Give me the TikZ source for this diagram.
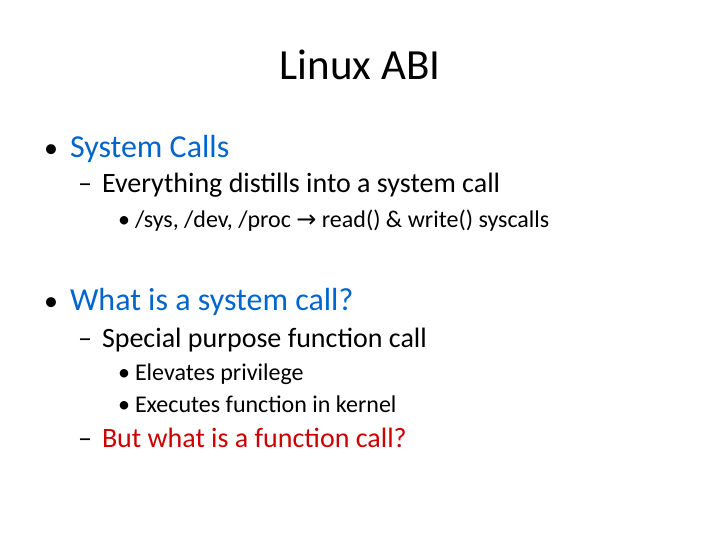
\documentclass[tikz,border=0pt]{standalone}
\usepackage{fontspec}
\setmainfont{Carlito}
\newfontfamily\symf{DejaVu Sans}
\definecolor{slideblue}{RGB}{0,102,204}
\definecolor{slidered}{RGB}{204,0,0}
\begin{document}
\begin{tikzpicture}[x=1pt,y=-1pt,
  txt/.style={anchor=base west,inner sep=0pt,outer sep=0pt},
  l1/.style={txt,font=\fontsize{32}{38}\selectfont},
  l2/.style={txt,font=\fontsize{28}{33}\selectfont},
  l3/.style={txt,font=\fontsize{24}{29}\selectfont}]
\useasboundingbox[fill=white] (0,0) rectangle (720,540);
\node[anchor=base,inner sep=0pt,font=\fontsize{43}{50}\selectfont] (title) at (360,80) {Linux ABI};
\node[l2] (b1) at (44,158) {•};
\node[l1,text=slideblue] (t1) at (70,158) {System Calls};
\node[l2] (d2) at (78,193) {–};
\node[l2] (t2) at (102,193) {Everything distills into a system call};
\node[l3] (b3) at (118,227) {•};
\node[l3] (t3) at (135,227) {/sys, /dev, /proc {\symf\fontsize{24}{26}\selectfont →} read() \& write() syscalls};
\node[l2] (b4) at (44,310) {•};
\node[l1,text=slideblue] (t4) at (70,310) {What is a system call?};
\node[l2] (d5) at (78,347) {–};
\node[l2] (t5) at (102,347) {Special purpose function call};
\node[l3] (b6) at (118,380) {•};
\node[l3] (t6) at (135,380) {Elevates privilege};
\node[l3] (b7) at (118,412) {•};
\node[l3] (t7) at (135,412) {Executes function in kernel};
\node[l2] (d8) at (78,447) {–};
\node[l2,text=slidered] (t8) at (102,447) {But what is a function call?};
\end{tikzpicture}
\end{document}
